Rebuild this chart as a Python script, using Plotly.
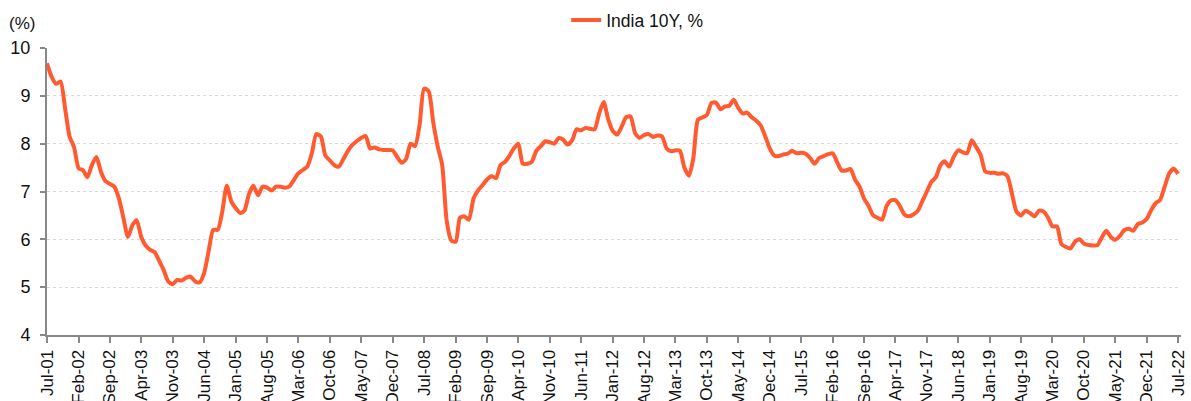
import plotly.graph_objects as go
import pandas as pd

start_month = "2001-07-01"
india_10y = [
    9.68, 9.40, 9.25, 9.30, 8.73, 8.15, 7.92, 7.48, 7.45, 7.30, 7.55, 7.72,
    7.42, 7.22, 7.16, 7.10, 6.85, 6.45, 6.05, 6.30, 6.40, 6.05, 5.87, 5.78,
    5.73, 5.55, 5.35, 5.12, 5.06, 5.15, 5.14, 5.20, 5.22, 5.12, 5.10, 5.30,
    5.75, 6.20, 6.20, 6.57, 7.12, 6.80, 6.65, 6.55, 6.60, 6.95, 7.12, 6.92,
    7.10, 7.08, 7.02, 7.10, 7.10, 7.08, 7.11, 7.25, 7.38, 7.45, 7.52, 7.80,
    8.20, 8.15, 7.75, 7.65, 7.55, 7.52, 7.68, 7.85, 7.97, 8.05, 8.12, 8.16,
    7.90, 7.92, 7.88, 7.87, 7.87, 7.86, 7.72, 7.60, 7.68, 8.00, 7.95, 8.40,
    9.15, 9.10, 8.45, 7.95, 7.55, 6.40, 5.98, 5.95, 6.45, 6.48, 6.41, 6.85,
    7.02, 7.13, 7.25, 7.32, 7.28, 7.55, 7.62, 7.75, 7.90, 8.00, 7.58, 7.58,
    7.62, 7.85, 7.95, 8.05, 8.03, 8.00, 8.12, 8.08, 7.98, 8.07, 8.30, 8.28,
    8.33, 8.31, 8.30, 8.63, 8.87, 8.52, 8.27, 8.19, 8.35, 8.55, 8.57, 8.22,
    8.12, 8.18, 8.20, 8.14, 8.17, 8.15, 7.90, 7.84, 7.86, 7.85, 7.50, 7.33,
    7.70, 8.50, 8.55, 8.60, 8.85, 8.86, 8.72, 8.78, 8.79, 8.92, 8.75, 8.63,
    8.65, 8.55, 8.48, 8.38, 8.15, 7.90, 7.75, 7.74, 7.77, 7.79, 7.85, 7.80,
    7.81, 7.79, 7.70, 7.58, 7.70, 7.74, 7.78, 7.80, 7.62, 7.44, 7.44, 7.47,
    7.25, 7.10, 6.85, 6.70, 6.50, 6.45, 6.41, 6.70, 6.81, 6.82, 6.70, 6.52,
    6.48, 6.52, 6.60, 6.80, 7.00, 7.20, 7.30, 7.55, 7.63, 7.52, 7.72, 7.86,
    7.82, 7.80, 8.07, 7.93, 7.76, 7.42, 7.39, 7.39, 7.37, 7.38, 7.32, 6.95,
    6.58, 6.50, 6.60, 6.55, 6.48, 6.60, 6.58, 6.45, 6.27, 6.27, 5.90, 5.84,
    5.81, 5.95, 6.00, 5.91, 5.88, 5.87, 5.88, 6.05, 6.18, 6.05, 5.99, 6.07,
    6.19, 6.22, 6.18, 6.32, 6.35, 6.43, 6.62, 6.76, 6.82, 7.10, 7.37, 7.48,
    7.37,
]
tick_labels = [
    "Jul-01", "Feb-02", "Sep-02", "Apr-03", "Nov-03", "Jun-04", "Jan-05",
    "Aug-05", "Mar-06", "Oct-06", "May-07", "Dec-07", "Jul-08", "Feb-09",
    "Sep-09", "Apr-10", "Nov-10", "Jun-11", "Jan-12", "Aug-12", "Mar-13",
    "Oct-13", "May-14", "Dec-14", "Jul-15", "Feb-16", "Sep-16", "Apr-17",
    "Nov-17", "Jun-18", "Jan-19", "Aug-19", "Mar-20", "Oct-20", "May-21",
    "Dec-21", "Jul-22",
]
y_ticks = [4, 5, 6, 7, 8, 9, 10]

months = pd.date_range(start_month, periods=len(india_10y), freq="MS")
tick_vals = list(months[::7])

fig = go.Figure()
fig.add_trace(go.Scatter(
    x=months, y=india_10y, mode="lines", name="India 10Y, %",
    line=dict(color="#FF5A30", width=4, shape="spline", smoothing=0.6),
))

font_family = "Liberation Sans, Arial, sans-serif"
fig.update_layout(
    width=1191, height=401,
    margin=dict(l=47, r=10, t=48, b=66, autoexpand=False),
    paper_bgcolor="white", plot_bgcolor="white",
    font=dict(family=font_family, color="#111111"),
    showlegend=True,
    legend=dict(orientation="h", xref="container", yref="container",
                x=0.535, xanchor="center", y=0.95, yanchor="middle",
                font=dict(size=17.5, family=font_family),
                bgcolor="rgba(0,0,0,0)"),
    xaxis=dict(
        range=[months[0], months[-1] + pd.Timedelta(days=20)],
        tickmode="array", tickvals=tick_vals, ticktext=tick_labels,
        tickangle=-90, tickfont=dict(size=17), ticks="outside", ticklen=6,
        tickcolor="#888888", tickwidth=1.5,
        showline=True, linecolor="#888888", linewidth=2,
        showgrid=False, zeroline=False, automargin=False,
    ),
    yaxis=dict(
        range=[4, 10], tickmode="array", tickvals=y_ticks,
        tickfont=dict(size=18), ticks="outside", ticklen=5,
        tickcolor="#888888", tickwidth=1.5, ticklabelstandoff=6,
        showline=True, linecolor="#888888", linewidth=2,
        showgrid=True, gridcolor="#d9d9d9", griddash="dot", gridwidth=1,
        zeroline=False, automargin=False,
    ),
    annotations=[dict(text="(%)", xref="paper", yref="paper", x=-0.022, y=1.085,
                      xanchor="center", yanchor="middle", showarrow=False,
                      font=dict(size=17, family=font_family))],
)

fig.write_html("out.html", config={"displayModeBar": False},
               post_script="document.body.style.margin='0';document.body.style.overflow='hidden';")
